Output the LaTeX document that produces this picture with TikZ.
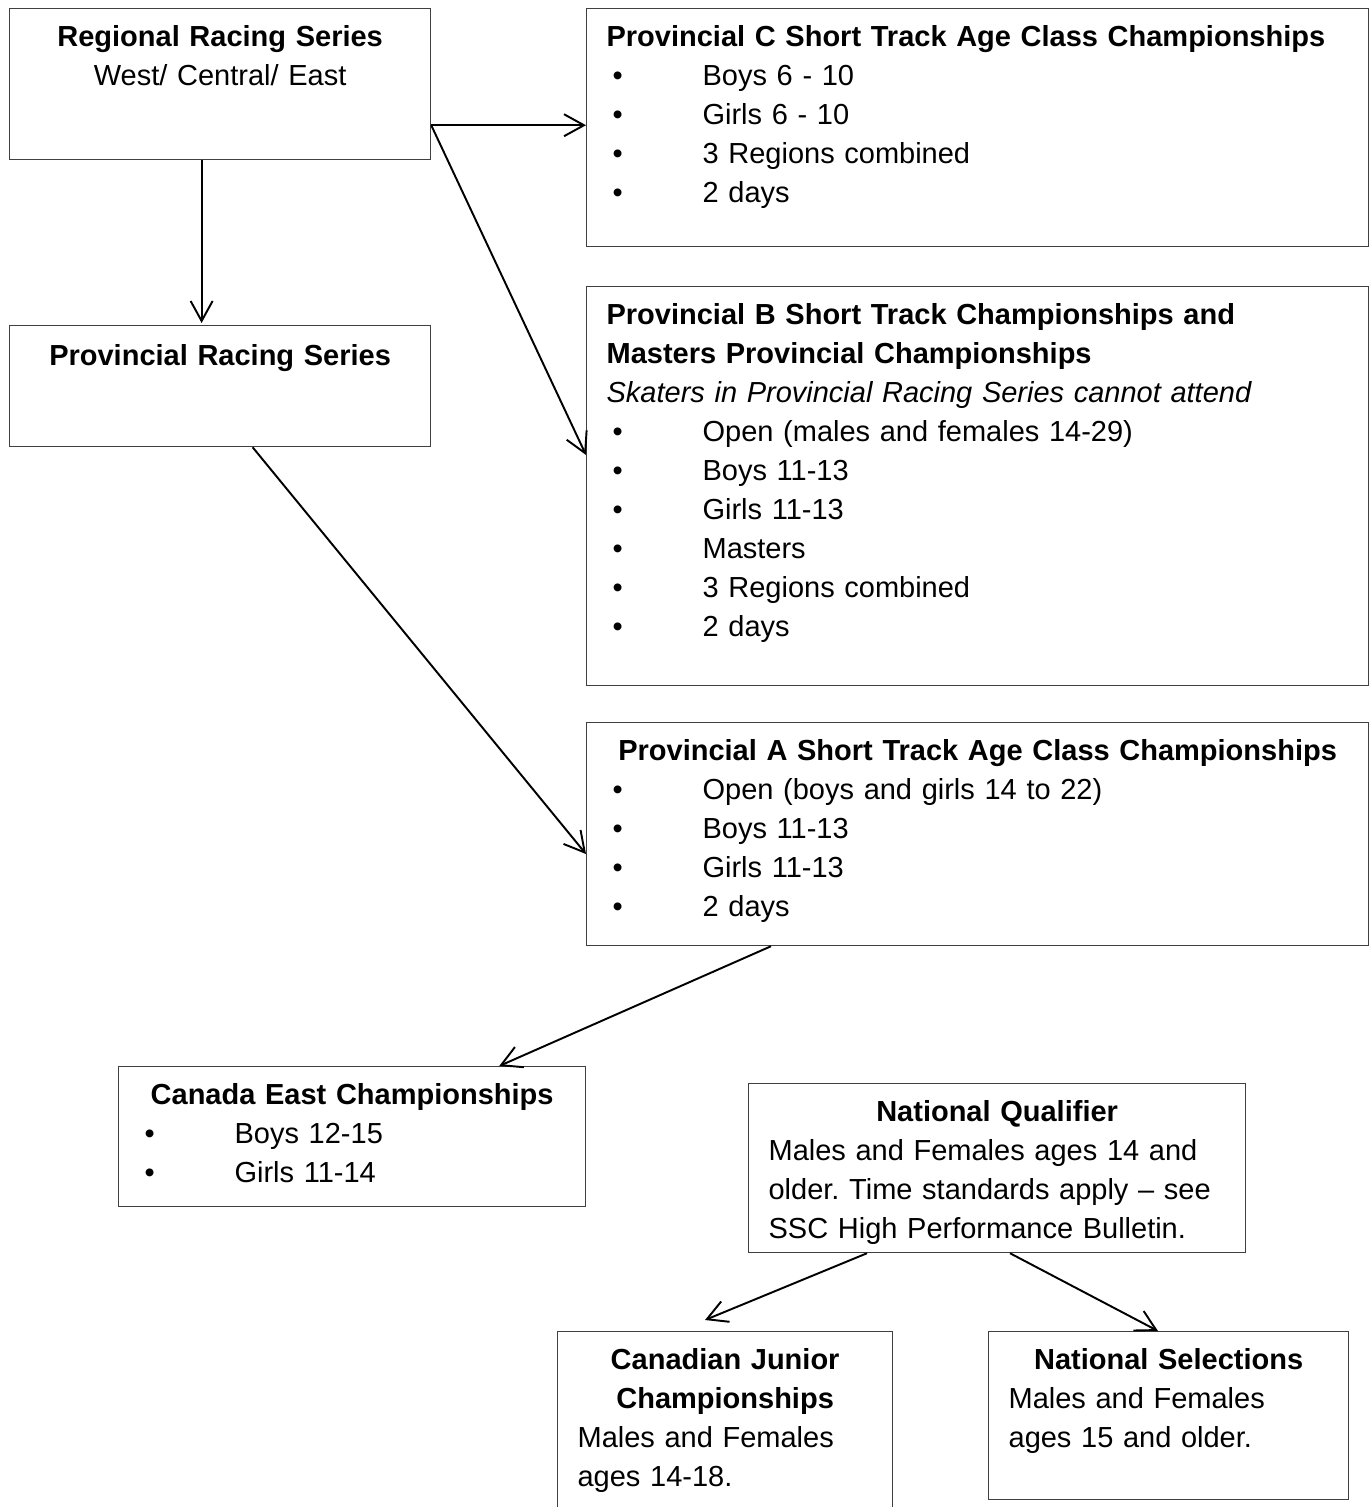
\documentclass[tikz,border=0pt]{standalone}
\usepackage{fontspec}
\setmainfont{Liberation Sans}
\usetikzlibrary{arrows.meta, positioning, calc}
\frenchspacing

\newcommand{\bul}{\hspace*{0.06cm}\makebox[0.9cm][l]{\textbullet}}
\newcommand{\ttl}[1]{\makebox[\linewidth]{\bfseries #1}}

\begin{document}
\begin{tikzpicture}[
    box/.style={rectangle, draw=black!75, line width=0.35pt, anchor=north west,
                inner xsep=0.2cm, inner ysep=0pt, align=left, text height=0.375cm,
                font=\fontsize{8.25}{11.1}\selectfont},
    flow/.style={-{Straight Barb[length=0.2cm, width=0.22cm]}, line width=0.55pt}
]
    \useasboundingbox (0,0) rectangle (13.69,-15.07);

    % Regional and provincial series
    \node[box, text width=3.81cm, text depth=1.135cm] (regional) at (0.09,-0.08) {
        \ttl{Regional Racing Series}\\
        \makebox[\linewidth]{West/ Central/ East}
    };
    \node[box, text width=3.81cm, text height=0.40cm, text depth=0.81cm] (provRacing) at (0.09,-3.25) {
        \ttl{Provincial Racing Series}
    };

    % Provincial championships
    \node[box, text width=7.42cm, text depth=2.005cm] (provC) at (5.86,-0.08) {
        \textbf{Provincial C Short Track Age Class Championships}\\
        \bul Boys 6 - 10\\
        \bul Girls 6 - 10\\
        \bul 3 Regions combined\\
        \bul 2 days
    };
    \node[box, text width=7.42cm, text depth=3.615cm] (provB) at (5.86,-2.86) {
        \textbf{Provincial B Short Track Championships and}\\
        \textbf{Masters Provincial Championships}\\
        \textit{Skaters in Provincial Racing Series cannot attend}\\
        \bul Open (males and females 14-29)\\
        \bul Boys 11-13\\
        \bul Girls 11-13\\
        \bul Masters\\
        \bul 3 Regions combined\\
        \bul 2 days
    };
    \node[box, text width=7.42cm, text depth=1.855cm] (provA) at (5.86,-7.22) {
        \ttl{Provincial A Short Track Age Class Championships}\\
        \bul Open (boys and girls 14 to 22)\\
        \bul Boys 11-13\\
        \bul Girls 11-13\\
        \bul 2 days
    };

    % National level
    \node[box, text width=4.27cm, text depth=1.025cm] (canEast) at (1.18,-10.66) {
        \ttl{Canada East Championships}\\
        \bul Boys 12-15\\
        \bul Girls 11-14
    };
    \node[box, text width=4.57cm, text depth=1.315cm] (natQual) at (7.48,-10.83) {
        \ttl{National Qualifier}\\
        Males and Females ages 14 and\\
        older. Time standards apply -- see\\
        SSC High Performance Bulletin.
    };
    \node[box, text width=2.95cm, text depth=1.465cm] (canJr) at (5.57,-13.31) {
        \ttl{Canadian Junior}\\
        \ttl{Championships}\\
        Males and Females\\
        ages 14-18.
    };
    \node[box, text width=3.20cm, text depth=1.305cm] (natSel) at (9.88,-13.31) {
        \ttl{National Selections}\\
        Males and Females\\
        ages 15 and older.
    };

    % Arrows
    \coordinate (fork) at ([yshift=0.35cm]regional.south east);
    \draw[flow] (fork) -- (fork -| provC.west);
    \draw[flow] (fork) -- ([yshift=-1.69cm]provB.north west);
    \draw[flow] ([xshift=-0.185cm]regional.south) -- ([xshift=-0.185cm, yshift=0.02cm]provRacing.north);
    \draw[flow] ([xshift=0.325cm]provRacing.south) -- ([yshift=-1.32cm]provA.north west);
    \draw[flow] ([xshift=1.85cm]provA.south west) -- ([xshift=-0.87cm]canEast.north east);
    \draw[flow] ([xshift=1.19cm]natQual.south west) -- ([xshift=1.48cm, yshift=0.11cm]canJr.north west);
    \draw[flow] ([xshift=2.62cm]natQual.south west) -- ([xshift=1.70cm]natSel.north west);
\end{tikzpicture}
\end{document}
